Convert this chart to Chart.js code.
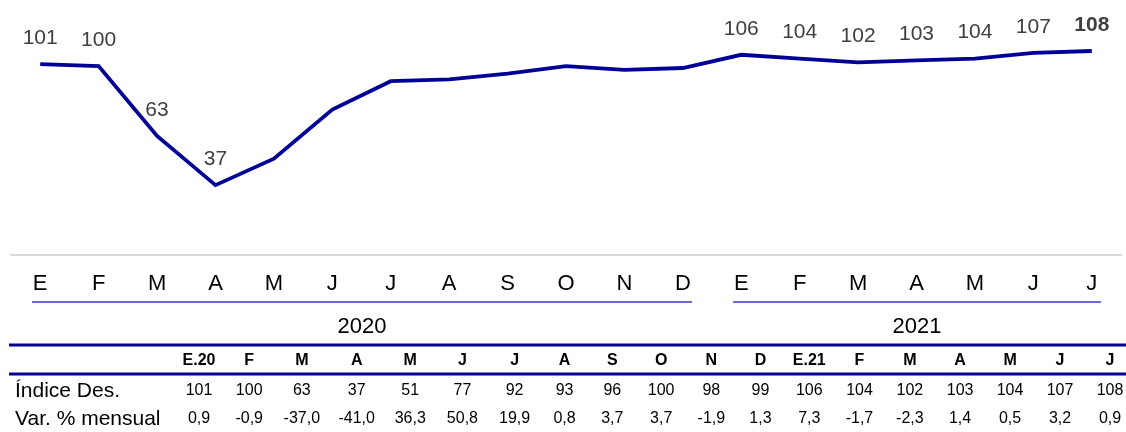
<!DOCTYPE html>
<html>
<head>
<meta charset="utf-8">
<script src="https://cdn.jsdelivr.net/npm/chart.js@4/dist/chart.umd.min.js"></script>
<style>
  html, body { margin: 0; padding: 0; background: #fff; }
  #wrap { position: relative; width: 1126px; height: 432px; }
</style>
</head>
<body>
<div id="wrap"><canvas id="myChart" width="1126" height="432"></canvas></div>
<script>
var months = ["E", "F", "M", "A", "M", "J", "J", "A", "S", "O", "N", "D", "E", "F", "M", "A", "M", "J", "J"];
var indexValues = [101, 100, 63, 37, 51, 77, 92, 93, 96, 100, 98, 99, 106, 104, 102, 103, 104, 107, 108];
var labeledPoints = [0, 1, 2, 3, 12, 13, 14, 15, 16, 17, 18];
var years = ["2020", "2021"];
var yearSpans = [[0, 11], [12, 18]];
var headerLabels = ["E.20", "F", "M", "A", "M", "J", "J", "A", "S", "O", "N", "D", "E.21", "F", "M", "A", "M", "J", "J"];
var rowNames = ["Índice Des.", "Var. % mensual"];
var monthlyVar = ["0,9", "-0,9", "-37,0", "-41,0", "36,3", "50,8", "19,9", "0,8", "3,7", "3,7", "-1,9", "1,3", "7,3", "-1,7", "-2,3", "1,4", "0,5", "3,2", "0,9"];

var FONT = "'Liberation Sans', Arial, sans-serif";

// value labels above the line
var pointLabels = {
  id: "pointLabels",
  afterDatasetsDraw: function(chart) {
    var ctx = chart.ctx;
    var meta = chart.getDatasetMeta(0);
    ctx.save();
    ctx.textAlign = "center";
    ctx.textBaseline = "middle";
    ctx.fillStyle = "#404040";
    labeledPoints.forEach(function(i) {
      var p = meta.data[i];
      var last = i === indexValues.length - 1;
      ctx.font = (last ? "bold " : "") + "21px " + FONT;
      ctx.fillText(String(indexValues[i]), p.x, p.y - 26);
    });
    ctx.restore();
  }
};

// year brackets and the table under the chart
var bottomTable = {
  id: "bottomTable",
  afterDraw: function(chart) {
    var ctx = chart.ctx;
    var xs = chart.scales.x;
    var half = (xs.getPixelForValue(1) - xs.getPixelForValue(0)) / 2;
    ctx.save();

    // year brackets
    ctx.strokeStyle = "#6a6ad2";
    ctx.lineWidth = 2;
    ctx.fillStyle = "#000";
    ctx.font = "22px " + FONT;
    ctx.textAlign = "center";
    ctx.textBaseline = "middle";
    yearSpans.forEach(function(s, k) {
      var x1 = xs.getPixelForValue(s[0]) - half + 21;
      var x2 = xs.getPixelForValue(s[1]) + half - 20;
      ctx.beginPath();
      ctx.moveTo(x1, 302);
      ctx.lineTo(x2, 302);
      ctx.stroke();
      ctx.fillText(years[k], (x1 + x2) / 2, 327);
    });

    // table rules
    ctx.strokeStyle = "#000090";
    ctx.lineWidth = 3;
    [345, 374].forEach(function(y) {
      ctx.beginPath();
      ctx.moveTo(9, y);
      ctx.lineTo(1126, y);
      ctx.stroke();
    });

    // column spacing grows a little with the widest value in each column
    var rows = [indexValues.map(String), monthlyVar];
    ctx.font = "16px " + FONT;
    var widths = headerLabels.map(function(h, i) {
      var w = 0;
      rows.forEach(function(r) { w = Math.max(w, ctx.measureText(r[i]).width); });
      return 0.5 * w;
    });
    var firstC = 199, lastC = 1110, n = widths.length;
    var inner = 0;
    for (var i = 0; i < n - 1; i++) inner += (widths[i] + widths[i + 1]) / 2;
    var pad = (lastC - firstC - inner) / (n - 1);
    var centers = [firstC];
    for (var j = 1; j < n; j++) {
      centers.push(centers[j - 1] + (widths[j - 1] + widths[j]) / 2 + pad);
    }

    ctx.fillStyle = "#000";
    ctx.font = "bold 16px " + FONT;
    headerLabels.forEach(function(h, i) { ctx.fillText(h, centers[i], 361); });

    var rowY = [391, 419];
    rows.forEach(function(r, k) {
      ctx.textAlign = "left";
      ctx.font = "21px " + FONT;
      ctx.fillText(rowNames[k], 15, rowY[k]);
      ctx.textAlign = "center";
      ctx.font = "16px " + FONT;
      r.forEach(function(v, i) { ctx.fillText(v, centers[i], rowY[k]); });
    });
    ctx.restore();
  }
};

new Chart("myChart", {
  type: "line",
  data: {
    labels: months,
    datasets: [{
      data: indexValues,
      borderColor: "#000096",
      borderWidth: 3.8,
      pointRadius: 0,
      tension: 0,
      fill: false
    }]
  },
  options: {
    responsive: false,
    animation: false,
    layout: { padding: { left: 11, right: 5, top: 0, bottom: 117 } },
    plugins: { legend: { display: false }, tooltip: { enabled: false } },
    scales: {
      x: {
        offset: true,
        afterFit: function(scale) { scale.height = 60; },
        grid: { display: false, drawTicks: false },
        border: { display: true, color: "#d9d9d9", width: 2 },
        ticks: { color: "#000", font: { size: 22, family: FONT }, padding: 16, maxRotation: 0, autoSkip: false }
      },
      y: {
        display: false,
        min: 0,
        max: 135
      }
    }
  },
  plugins: [pointLabels, bottomTable]
});
</script>
</body>
</html>
